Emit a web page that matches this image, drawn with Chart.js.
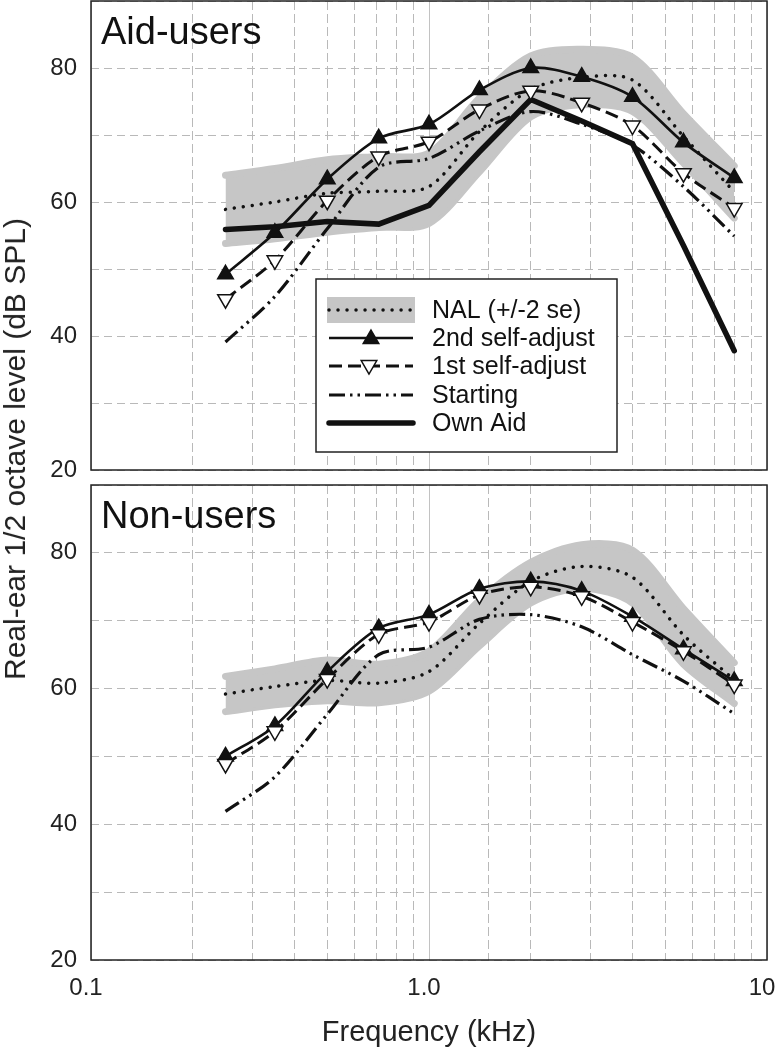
<!DOCTYPE html>
<html>
<head>
<meta charset="utf-8">
<script src="https://cdn.jsdelivr.net/npm/chart.js@4"></script>
<style>
  body { margin: 0; background: #fff; }
  #wrap { position: relative; width: 776px; height: 1050px; font-family: 'Liberation Sans', Arial, sans-serif; }
  #topChart { position: absolute; left: 0; top: 0; }
  #bottomChart { position: absolute; left: 0; top: 478px; }
  #ytitle {
    position: absolute; left: 15px; top: 449px;
    transform: translate(-50%, -50%) rotate(-90deg);
    white-space: nowrap; font-size: 30px; color: #222;
  }
</style>
</head>
<body>
<div id="wrap">
  <canvas id="topChart" width="776" height="484"></canvas>
  <canvas id="bottomChart" width="776" height="572"></canvas>
  <div id="ytitle">Real-ear 1/2 octave level (dB SPL)</div>
</div>

<script>
// half-octave test frequencies (kHz)
const freqs = [0.25, 0.35, 0.5, 0.71, 1.0, 1.41, 2.0, 2.83, 4.0, 5.66, 8.0];
const xTickVals = [0.1, 1, 10];
const xTickText = ['0.1', '1.0', '10'];
const yTicks = [20, 40, 60, 80];

// Aid-users panel
const aidNal    = [58.9, 60.0, 61.3, 61.6, 62.3, 70.5, 76.8, 78.6, 78.2, 69.8, 61.5];
const aidNalHi  = [64.0, 65.0, 66.3, 66.8, 67.3, 75.5, 81.8, 82.8, 81.6, 73.2, 65.4];
const aidNalLo  = [53.8, 54.5, 55.5, 56.2, 56.8, 64.5, 72.7, 74.5, 73.5, 65.8, 57.6];
const aidSecond = [49.2, 55.4, 63.4, 69.5, 71.6, 76.7, 80.0, 78.7, 75.7, 68.9, 63.6];
const aidFirst  = [45.5, 51.3, 60.2, 66.8, 69.0, 73.8, 76.6, 74.8, 71.4, 64.3, 59.1];
const aidStart  = [39.1, 45.9, 56.0, 65.2, 66.5, 70.6, 73.5, 71.6, 68.5, 62.3, 54.9];
const aidOwn    = [55.9, 56.3, 57.1, 56.7, 59.5, 67.5, 75.3, 72.1, 68.7, 53.5, 37.8];

// Non-users panel
const nonNal    = [59.2, 60.3, 61.2, 60.8, 62.5, 69.6, 75.8, 78.0, 76.4, 67.9, 61.3];
const nonNalHi  = [61.8, 62.9, 64.2, 63.6, 65.5, 73.0, 78.6, 81.2, 80.4, 71.8, 63.8];
const nonNalLo  = [56.6, 57.6, 58.2, 57.9, 59.6, 66.3, 72.6, 74.8, 72.6, 63.6, 57.8];
const nonSecond = [50.0, 54.5, 62.5, 68.9, 70.9, 74.7, 75.8, 74.4, 70.6, 65.8, 61.1];
const nonFirst  = [48.9, 53.7, 61.4, 68.0, 69.8, 73.8, 75.0, 73.6, 69.8, 65.5, 60.6];
const nonStart  = [41.9, 47.0, 56.2, 65.0, 66.1, 70.2, 70.9, 69.1, 65.0, 61.1, 56.3];

const FONT = "'Liberation Sans', Arial, sans-serif";
const INK = '#111';
const BAND = '#c6c6c6';

const style = {
  first:  { borderColor: INK, borderWidth: 3, borderDash: [13, 6], tension: 0.3,
            pointStyle: 'triangle', pointRotation: 180, pointRadius: 9,
            pointBackgroundColor: '#fff', pointBorderColor: INK, pointBorderWidth: 1.5 },
  second: { borderColor: INK, borderWidth: 2.6, tension: 0.3,
            pointStyle: 'triangle', pointRadius: 9,
            pointBackgroundColor: INK, pointBorderColor: INK, pointBorderWidth: 1.5 },
  start:  { borderColor: INK, borderWidth: 3.2, borderDash: [16, 5, 2.5, 5, 2.5, 5], tension: 0.3, pointRadius: 0 },
  own:    { borderColor: INK, borderWidth: 5.5, borderCapStyle: 'round', tension: 0, pointRadius: 0 },
  nal:    { borderColor: INK, borderWidth: 3.5, borderDash: [0.01, 9], borderCapStyle: 'round', tension: 0.3, pointRadius: 0 },
  band:   { borderColor: BAND, backgroundColor: BAND, borderWidth: 7, borderCapStyle: 'round', tension: 0.3, pointRadius: 0 }
};

function pts(vals) {
  return freqs.map((f, i) => ({ x: f, y: vals[i] }));
}

function isDecade(v) {
  if (v == null) return false;
  const l = Math.log10(v);
  return Math.abs(l - Math.round(l)) < 1e-6;
}

// frame around the plot area plus the panel name
const framePlugin = {
  id: 'frame',
  afterDatasetsDraw(chart, args, opts) {
    const { ctx, chartArea: a } = chart;
    ctx.save();
    ctx.strokeStyle = '#222';
    ctx.lineWidth = 1.5;
    ctx.strokeRect(a.left, a.top, a.right - a.left, a.bottom - a.top);
    ctx.fillStyle = INK;
    ctx.font = '38px ' + FONT;
    ctx.textBaseline = 'alphabetic';
    ctx.fillText(opts.title, a.left + 10, a.top + 43);
    ctx.restore();
  }
};

function triangle(ctx, x, y, r, down, fill) {
  ctx.beginPath();
  for (let k = 0; k < 3; k++) {
    const ang = (down ? Math.PI : 0) + k * 2 * Math.PI / 3;
    const px = x + Math.sin(ang) * r, py = y - Math.cos(ang) * r;
    if (k) ctx.lineTo(px, py); else ctx.moveTo(px, py);
  }
  ctx.closePath();
  ctx.setLineDash([]);
  ctx.fillStyle = fill;
  ctx.fill();
  ctx.lineWidth = 1.5;
  ctx.strokeStyle = INK;
  ctx.stroke();
}

function sampleLine(ctx, s, y) {
  ctx.save();
  ctx.strokeStyle = s.borderColor;
  ctx.lineWidth = s.borderWidth;
  ctx.setLineDash(s.borderDash || []);
  ctx.lineCap = s.borderCapStyle || 'butt';
  ctx.beginPath();
  ctx.moveTo(329, y);
  ctx.lineTo(413, y);
  ctx.stroke();
  ctx.restore();
}

// boxed legend inside the top panel
const legendPlugin = {
  id: 'boxLegend',
  afterDraw(chart) {
    const ctx = chart.ctx;
    ctx.save();
    ctx.fillStyle = '#fff';
    ctx.fillRect(316, 279, 301, 173);
    ctx.strokeStyle = '#222';
    ctx.lineWidth = 1.5;
    ctx.strokeRect(316, 279, 301, 173);

    ctx.fillStyle = BAND;
    ctx.fillRect(327, 297, 88, 26);
    sampleLine(ctx, style.nal, 310);
    sampleLine(ctx, style.second, 338);
    triangle(ctx, 371, 339, 9, false, INK);
    sampleLine(ctx, style.first, 366);
    triangle(ctx, 369, 365, 9, true, '#fff');
    sampleLine(ctx, style.start, 395);
    sampleLine(ctx, style.own, 423);

    ctx.fillStyle = INK;
    ctx.font = '25px ' + FONT;
    ctx.textBaseline = 'middle';
    const labels = ['NAL (+/-2 se)', '2nd self-adjust', '1st self-adjust', 'Starting', 'Own Aid'];
    const rows = [310, 338, 366, 395, 423];
    labels.forEach((t, i) => ctx.fillText(t, 432, rows[i] + 1));
    ctx.restore();
  }
};

function makeOptions(title, showX, padTop, xHeight) {
  return {
    responsive: false,
    animation: false,
    layout: { autoPadding: false, padding: { left: 0, right: 9, top: padTop, bottom: 0 } },
    plugins: { legend: { display: false }, tooltip: { enabled: false }, frame: { title: title } },
    scales: {
      x: {
        type: 'logarithmic',
        min: 0.1,
        max: 10,
        afterFit: s => { s.height = xHeight; s.paddingLeft = 0; s.paddingRight = 0; },
        grid: {
          color: c => isDecade(c.tick && c.tick.value) ? '#c2c2c2' : '#b9b9b9',
          lineWidth: 1,
          drawTicks: false
        },
        border: { display: false, dash: c => isDecade(c.tick && c.tick.value) ? [] : [9, 4] },
        ticks: {
          display: showX,
          autoSkip: false,
          maxRotation: 0,
          padding: 14,
          labelOffset: -5,
          color: '#222',
          font: { family: FONT, size: 24 },
          callback: v => {
            const i = xTickVals.findIndex(t => Math.abs(t - v) < 1e-9);
            return i >= 0 ? xTickText[i] : '';
          }
        },
        title: {
          display: showX,
          text: 'Frequency (kHz)',
          color: '#222',
          font: { family: FONT, size: 29 },
          padding: 0
        }
      },
      y: {
        min: 20,
        max: 90,
        afterFit: s => { s.width = 91; s.paddingTop = 0; s.paddingBottom = 0; },
        grid: { color: '#b9b9b9', lineWidth: 1, drawTicks: false },
        border: { display: false, dash: [8, 5] },
        ticks: {
          stepSize: 10,
          padding: 14,
          color: '#222',
          font: { family: FONT, size: 24 },
          callback: v => yTicks.includes(v) ? String(v) : ''
        }
      }
    }
  };
}

new Chart(document.getElementById('topChart'), {
  type: 'line',
  data: {
    datasets: [
      Object.assign({ data: pts(aidFirst) }, style.first),
      Object.assign({ data: pts(aidSecond) }, style.second),
      Object.assign({ data: pts(aidStart) }, style.start),
      Object.assign({ data: pts(aidOwn) }, style.own),
      Object.assign({ data: pts(aidNal) }, style.nal),
      Object.assign({ data: pts(aidNalHi), fill: '+1' }, style.band),
      Object.assign({ data: pts(aidNalLo), fill: false }, style.band)
    ]
  },
  options: makeOptions('Aid-users', false, 1, 14),
  plugins: [framePlugin, legendPlugin]
});

new Chart(document.getElementById('bottomChart'), {
  type: 'line',
  data: {
    datasets: [
      Object.assign({ data: pts(nonFirst) }, style.first),
      Object.assign({ data: pts(nonSecond) }, style.second),
      Object.assign({ data: pts(nonStart) }, style.start),
      Object.assign({ data: pts(nonNal) }, style.nal),
      Object.assign({ data: pts(nonNalHi), fill: '+1' }, style.band),
      Object.assign({ data: pts(nonNalLo), fill: false }, style.band)
    ]
  },
  options: makeOptions('Non-users', true, 7, 90),
  plugins: [framePlugin]
});
</script>
</body>
</html>
